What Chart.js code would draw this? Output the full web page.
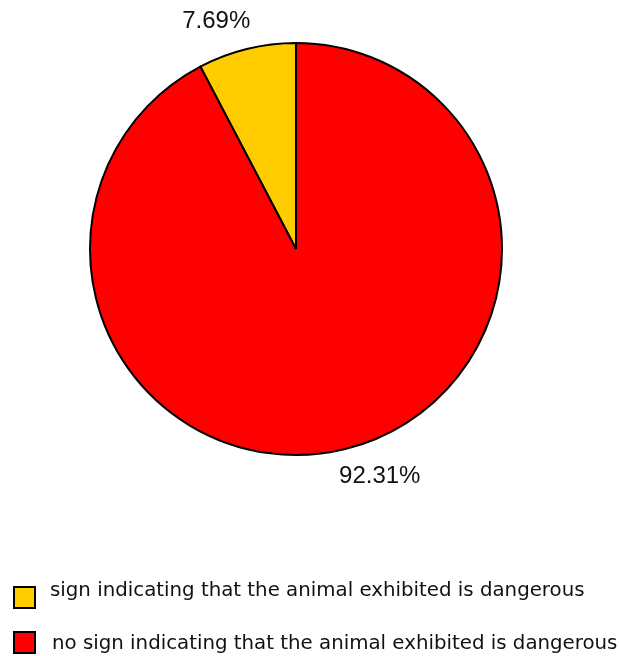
<!DOCTYPE html>
<html>
<head>
<meta charset="utf-8">
<script src="https://cdn.jsdelivr.net/npm/chart.js@4.4.0/dist/chart.umd.min.js"></script>
<style>
  html, body { margin: 0; padding: 0; background: #fff; }
  #chart { display: block; }
</style>
</head>
<body>
<canvas id="chart" width="619" height="656"></canvas>
<script>
// data
const labels = [
  'sign indicating that the animal exhibited is dangerous',
  'no sign indicating that the animal exhibited is dangerous'
];
const values = [7.69, 92.31];
const colors = ['#ffcc00', '#ff0000'];

const total = values.reduce((a, b) => a + b, 0);

// percent labels outside the slices
const pctLabels = {
  id: 'pctLabels',
  afterDatasetsDraw(chart) {
    const ctx = chart.ctx;
    const meta = chart.getDatasetMeta(0);
    const shift = -5.9 * Math.PI / 180;
    ctx.save();
    ctx.font = '24px "Liberation Sans", Arial, sans-serif';
    ctx.fillStyle = '#111';
    ctx.textAlign = 'center';
    ctx.textBaseline = 'middle';
    meta.data.forEach((arc, i) => {
      const p = arc.getProps(['x', 'y', 'startAngle', 'endAngle', 'outerRadius'], true);
      const mid = (p.startAngle + p.endAngle) / 2 + shift;
      const r = p.outerRadius + 36;
      const txt = (values[i] / total * 100).toFixed(2) + '%';
      ctx.fillText(txt, p.x + Math.cos(mid) * r + 2, p.y + Math.sin(mid) * r);
    });
    ctx.restore();
  }
};

// legend drawn as a list under the pie
const listLegend = {
  id: 'listLegend',
  afterDraw(chart) {
    const ctx = chart.ctx;
    const ds = chart.data.datasets[0];
    ctx.save();
    ctx.font = '19.8px "DejaVu Sans", Verdana, sans-serif';
    ctx.textAlign = 'left';
    ctx.textBaseline = 'alphabetic';
    chart.data.labels.forEach((lab, i) => {
      const top = 586 + i * 45;
      ctx.fillStyle = ds.backgroundColor[i];
      ctx.fillRect(13, top, 23, 23);
      ctx.lineWidth = 2;
      ctx.strokeStyle = '#000';
      ctx.strokeRect(14, top + 1, 21, 21);
      ctx.fillStyle = '#111';
      ctx.fillText(lab, 50 + i * 2, 596 + i * 53);
    });
    ctx.restore();
  }
};

new Chart(document.getElementById('chart'), {
  type: 'pie',
  data: {
    labels: labels,
    datasets: [{
      data: values,
      backgroundColor: colors,
      borderColor: '#000',
      borderWidth: 2
    }]
  },
  options: {
    responsive: false,
    animation: false,
    rotation: -360 * values[0] / total,
    radius: 206,
    layout: { padding: { left: 0, right: 27, top: 0, bottom: 158 } },
    plugins: {
      legend: { display: false },
      tooltip: { enabled: false }
    }
  },
  plugins: [pctLabels, listLegend]
});
</script>
</body>
</html>
